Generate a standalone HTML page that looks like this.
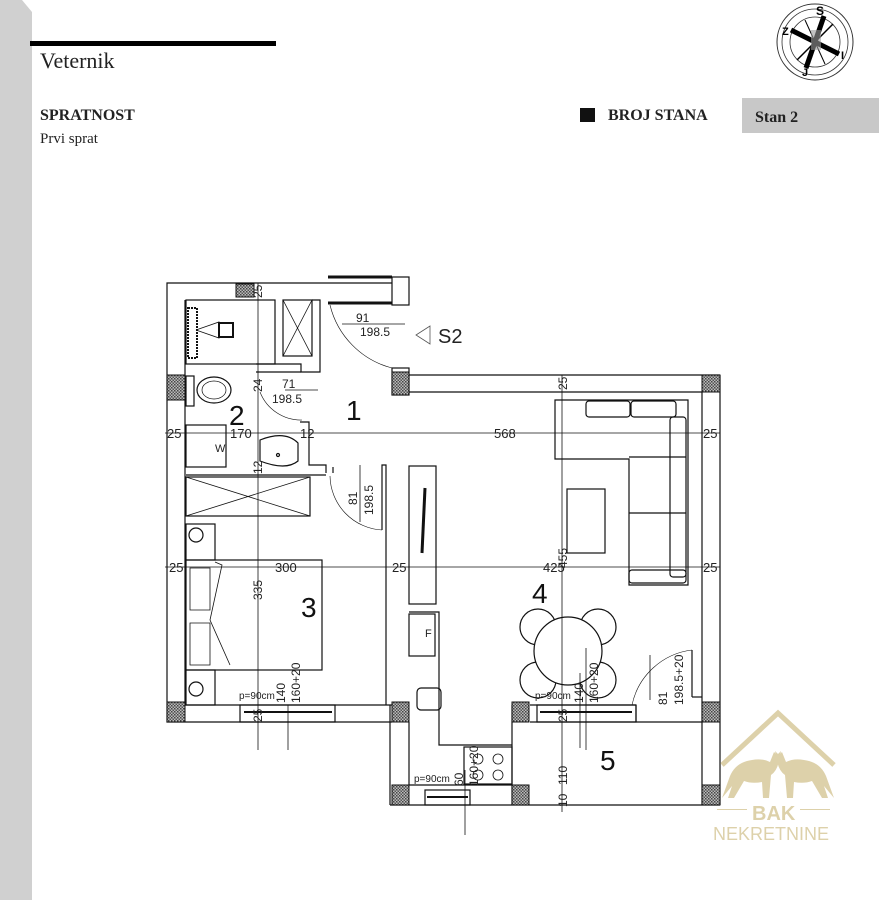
<!DOCTYPE html>
<html><head><meta charset="utf-8"><style>
html,body{margin:0;padding:0;background:#fff;}
svg{display:block}
</style></head><body>
<svg width="879" height="900" viewBox="0 0 879 900" xmlns="http://www.w3.org/2000/svg" font-family="Liberation Sans, sans-serif">
<defs>
<pattern id="h" width="3" height="3" patternUnits="userSpaceOnUse"><rect width="3" height="3" fill="#bbb"/><rect width="1.5" height="1.5" fill="#444"/><rect x="1.5" y="1.5" width="1.5" height="1.5" fill="#555"/></pattern>
</defs>
<polygon points="0,0 22,0 32,12 32,900 0,900" fill="#d0d0d0"/>
<rect x="30" y="41" width="246" height="5" fill="#000"/>
<text x="40" y="68" font-family="Liberation Serif, serif" font-size="22" fill="#222">Veternik</text>
<text x="40" y="120" font-family="Liberation Serif, serif" font-size="16" font-weight="bold" fill="#222">SPRATNOST</text>
<text x="40" y="143" font-family="Liberation Serif, serif" font-size="15" fill="#222">Prvi sprat</text>
<rect x="580" y="108" width="15" height="14" fill="#111"/>
<text x="608" y="120" font-family="Liberation Serif, serif" font-size="16" font-weight="bold" fill="#222">BROJ STANA</text>
<rect x="742" y="98" width="137" height="35" fill="#c8c8c8"/>
<text x="755" y="122" font-family="Liberation Serif, serif" font-size="16" font-weight="bold" fill="#222">Stan 2</text>
<g transform="translate(815,42)" fill="none" stroke="#333">
<circle r="38" stroke-width="1"/><circle r="33" stroke-width="0.8"/><circle r="25" stroke-width="0.8"/>
<line x1="-24" y1="-12" x2="24" y2="12" stroke="#000" stroke-width="5"/>
<line x1="9" y1="-26" x2="-9" y2="26" stroke="#000" stroke-width="5"/>
<line x1="-18" y1="18" x2="18" y2="-18" stroke="#000" stroke-width="1.5"/>
<line x1="-10" y1="-22" x2="10" y2="22" stroke="#000" stroke-width="1"/>
<rect x="-4" y="-12" width="10" height="20" fill="#999" stroke="none" opacity="0.6"/>
<text x="1" y="-27" font-size="12" font-weight="bold" fill="#000" stroke="none">S</text>
<text x="-33" y="-7" font-size="11" font-weight="bold" fill="#000" stroke="none">Z</text>
<text x="26" y="17" font-size="11" font-weight="bold" fill="#000" stroke="none">I</text>
<text x="-13" y="34" font-size="11" font-weight="bold" fill="#000" stroke="none">J</text>
</g>
<g fill="none" stroke="#111" stroke-width="1.2">
<polyline points="392,283 167,283 167,722 392,722"/>
<line x1="185" y1="300" x2="185" y2="705"/>
<line x1="328" y1="277" x2="392" y2="277" stroke-width="3"/>
<line x1="328" y1="303" x2="392" y2="303" stroke-width="3"/>
<rect x="392" y="277" width="17" height="28"/>
<rect x="392" y="368" width="17" height="27"/>
<line x1="409" y1="375" x2="720" y2="375"/>
<line x1="409" y1="392" x2="702" y2="392"/>
<line x1="720" y1="375" x2="720" y2="805"/>
<line x1="702" y1="392" x2="702" y2="805"/>
<line x1="185" y1="705" x2="392" y2="705"/>
<line x1="390" y1="805" x2="720" y2="805"/>
<line x1="390" y1="705" x2="390" y2="805"/>
<line x1="409" y1="722" x2="409" y2="785"/>
<line x1="409" y1="785" x2="512" y2="785"/>
<line x1="512" y1="705" x2="512" y2="805"/>
<line x1="530" y1="722" x2="702" y2="722"/>
<line x1="530" y1="705" x2="636" y2="705"/>
<line x1="636" y1="705" x2="636" y2="722"/>
<rect x="240" y="705" width="95" height="17"/>
<line x1="244" y1="712" x2="332" y2="712" stroke-width="2"/>
<rect x="537" y="705" width="99" height="17"/>
<line x1="540" y1="712" x2="632" y2="712" stroke-width="2"/>
<rect x="425" y="790" width="45" height="15"/>
<line x1="427" y1="797" x2="468" y2="797" stroke-width="2"/>
<g fill="url(#h)" stroke="#111" stroke-width="1">
<rect x="167" y="375" width="18" height="25"/>
<rect x="392" y="372" width="17" height="23"/>
<rect x="702" y="375" width="18" height="17"/>
<rect x="167" y="702" width="18" height="20"/>
<rect x="392" y="702" width="17" height="20"/>
<rect x="512" y="702" width="17" height="20"/>
<rect x="702" y="702" width="18" height="20"/>
<rect x="392" y="785" width="17" height="20"/>
<rect x="512" y="785" width="17" height="20"/>
<rect x="702" y="785" width="18" height="20"/>
<rect x="236" y="284" width="18" height="13"/>
</g>
<rect x="186" y="300" width="89" height="64"/>
<rect x="283" y="300" width="29" height="56"/>
<line x1="283" y1="300" x2="312" y2="356" stroke-width="0.8"/><line x1="312" y1="300" x2="283" y2="356" stroke-width="0.8"/>
<polyline points="256,364 301,364 301,372 320,372 320,300 312,300"/>
<line x1="256" y1="372" x2="301" y2="372"/>
<rect x="219" y="323" width="14" height="14" stroke-width="2"/>
<polyline points="196,330 219,322 219,338 196,330" stroke-width="0.8"/>
<rect x="188" y="308" width="9" height="50" stroke-width="2" stroke-dasharray="2,1"/>
<ellipse cx="214" cy="390" rx="17" ry="13"/>
<ellipse cx="214" cy="390" rx="12" ry="9" stroke-width="0.7"/>
<rect x="186" y="376" width="8" height="30"/>
<rect x="186" y="425" width="40" height="42"/>
<path d="M260 440 q25 -10 38 3 v18 q-12 10 -38 0 z"/>
<circle cx="278" cy="455" r="1.5"/>
<polyline points="300,422 309,422 309,465 326,465 326,473"/>
<line x1="333" y1="473" x2="333" y2="467"/>
<path d="M260 392 A44 44 0 0 0 302 420" stroke-width="0.6"/>
<path d="M330 305 A86 86 0 0 0 392 368" stroke-width="0.6"/>
<path d="M330 476 A55 55 0 0 0 382 530" stroke-width="0.6"/>
<rect x="186" y="477" width="124" height="39"/>
<line x1="186" y1="477" x2="310" y2="516" stroke-width="0.8"/><line x1="310" y1="477" x2="186" y2="516" stroke-width="0.8"/>
<line x1="186" y1="475" x2="326" y2="475"/>
<rect x="186" y="524" width="29" height="36"/>
<circle cx="196" cy="535" r="7"/>
<rect x="186" y="560" width="136" height="110"/>
<path d="M190 568 h20 v42 h-20 z M190 623 h20 v42 h-20 z" stroke-width="0.8"/>
<polyline points="215,562 222,565 210,620 230,665" stroke-width="0.8"/>
<rect x="186" y="670" width="29" height="35"/>
<circle cx="196" cy="689" r="7"/>
<polyline points="382,530 382,465 386,465 386,705"/>
<rect x="409" y="466" width="27" height="138"/>
<path d="M425 488 l-3 65" stroke-width="3"/>
<polyline points="409,612 439,612 439,745 512,745"/>
<rect x="409" y="614" width="26" height="42"/>
<rect x="417" y="688" width="24" height="22" rx="4"/>
<rect x="464" y="747" width="48" height="37"/>
<g stroke-width="0.8"><circle cx="478" cy="759" r="5"/><circle cx="498" cy="759" r="5"/><circle cx="478" cy="775" r="5"/><circle cx="498" cy="775" r="5"/></g>
<path d="M555 400 h133 v185 h-59 v-126 h-74 z"/>
<rect x="586" y="401" width="44" height="16" rx="3"/>
<rect x="631" y="401" width="45" height="16" rx="3"/>
<rect x="670" y="417" width="16" height="160" rx="3"/>
<line x1="629" y1="457" x2="686" y2="457"/><line x1="629" y1="513" x2="686" y2="513"/>
<rect x="629" y="570" width="57" height="13" rx="3"/>
<rect x="567" y="489" width="38" height="64"/>
<!-- chairs then table -->
<circle cx="538" cy="627" r="18"/>
<circle cx="598" cy="627" r="18"/>
<circle cx="538" cy="680" r="18"/>
<circle cx="598" cy="680" r="18"/>
<circle cx="568" cy="651" r="34" fill="#fff"/>
<path d="M632 705 A70 70 0 0 1 692 650" stroke-width="0.6"/>
<line x1="692" y1="650" x2="692" y2="697"/><polyline points="692,697 702,697"/>
</g>
<g stroke="#111" stroke-width="0.8" fill="none">
<line x1="165" y1="433" x2="720" y2="433"/>
<line x1="165" y1="567" x2="720" y2="567"/>
<line x1="258" y1="283" x2="258" y2="750"/>
<line x1="562" y1="375" x2="562" y2="812"/>
<line x1="288" y1="705" x2="288" y2="750"/>
<line x1="465" y1="770" x2="465" y2="835"/>
<line x1="586" y1="648" x2="586" y2="750"/>
<line x1="285" y1="390" x2="318" y2="390"/>
<line x1="342" y1="324" x2="405" y2="324"/>
<line x1="360" y1="465" x2="360" y2="522"/>
<line x1="650" y1="700" x2="650" y2="655" />
<line x1="580" y1="673" x2="580" y2="748"/>
</g>
<g font-size="13" fill="#222">
<text x="167" y="438">25</text><text x="230" y="438">170</text><text x="300" y="438">12</text><text x="494" y="438">568</text><text x="703" y="438">25</text>
<text x="169" y="572">25</text><text x="275" y="572">300</text><text x="392" y="572">25</text><text x="543" y="572">425</text><text x="703" y="572">25</text>
<text x="356" y="322" font-size="12">91</text><text x="360" y="336" font-size="12">198.5</text>
<text x="282" y="388" font-size="12">71</text><text x="272" y="403" font-size="12">198.5</text>
<text x="438" y="343" font-size="20">S2</text>
<polygon points="416,335 430,326 430,344" fill="none" stroke="#555" stroke-width="0.8"/>
<text x="239" y="699" font-size="10">p=90cm</text>
<text x="535" y="699" font-size="10">p=90cm</text>
<text x="414" y="782" font-size="10">p=90cm</text>
<text x="215" y="452" font-size="11">W</text>
<text x="425" y="637" font-size="11">F</text>
</g>
<g font-size="12" fill="#222">
<text transform="translate(262,298) rotate(-90)">25</text>
<text transform="translate(262,392) rotate(-90)">24</text>
<text transform="translate(262,474) rotate(-90)">12</text>
<text transform="translate(262,600) rotate(-90)">335</text>
<text transform="translate(262,722) rotate(-90)">25</text>
<text transform="translate(567,390) rotate(-90)">25</text>
<text transform="translate(567,568) rotate(-90)">455</text>
<text transform="translate(567,722) rotate(-90)">25</text>
<text transform="translate(567,785) rotate(-90)">110</text>
<text transform="translate(567,807) rotate(-90)">10</text>
<text transform="translate(357,505) rotate(-90)">81</text>
<text transform="translate(373,515) rotate(-90)">198.5</text>
<text transform="translate(667,705) rotate(-90)">81</text>
<text transform="translate(683,705) rotate(-90)">198.5+20</text>
<text transform="translate(285,703) rotate(-90)">140</text>
<text transform="translate(300,703) rotate(-90)">160+20</text>
<text transform="translate(583,703) rotate(-90)">140</text>
<text transform="translate(598,703) rotate(-90)">160+20</text>
<text transform="translate(463,786) rotate(-90)">60</text>
<text transform="translate(478,786) rotate(-90)">160+20</text>
</g>
<g font-size="28" fill="#111">
<text x="346" y="420">1</text><text x="229" y="425">2</text><text x="301" y="617">3</text><text x="532" y="603">4</text><text x="600" y="770">5</text>
</g>
<g fill="#d8c99c" opacity="0.85">
<polyline points="722,765 778,713 834,765" fill="none" stroke="#d8c99c" stroke-width="5"/>
<path d="M722 798 l8 -22 q6 -14 22 -16 q10 -2 18 2 l4 -10 l3 3 l4 -4 l-2 10 q-2 10 -8 14 l-2 23 h-6 l-1 -16 q-10 2 -18 -1 l-10 17 h-6 l4 -12 z"/>
<path d="M834 798 l-8 -22 q-6 -14 -22 -16 q-10 -2 -18 2 l-4 -10 l-3 3 l-4 -4 l2 10 q2 10 8 14 l2 23 h6 l1 -16 q10 2 18 -1 l10 17 h6 l-4 -12 z"/>
<text x="752" y="820" font-size="20" font-weight="bold">BAK</text>
<rect x="717" y="809" width="30" height="1"/><rect x="800" y="809" width="30" height="1"/>
<text x="713" y="840" font-size="18">NEKRETNINE</text>
</g>
</svg>
</body></html>
